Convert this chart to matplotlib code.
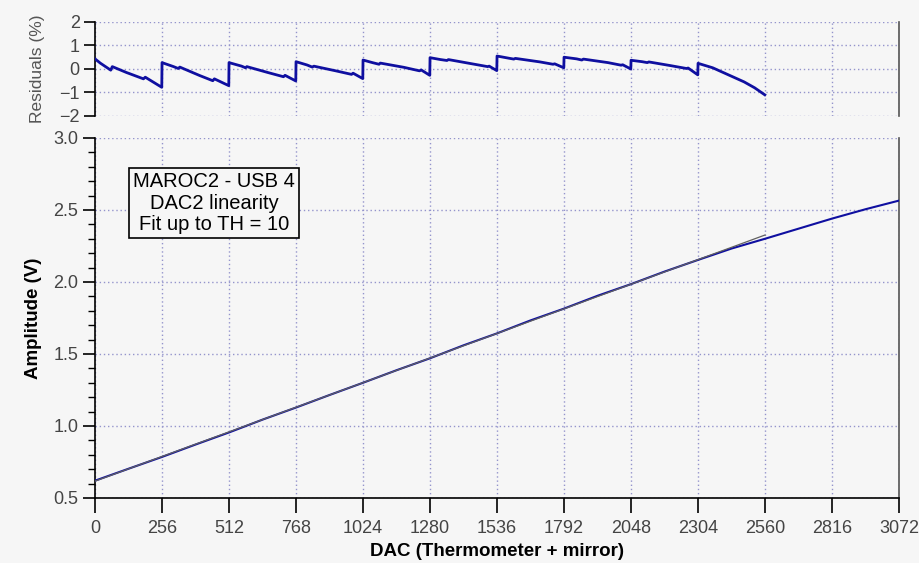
import numpy as np
import matplotlib.pyplot as plt
from matplotlib.ticker import MultipleLocator

plt.rcParams['font.family'] = ['Liberation Sans', 'DejaVu Sans']

# DAC scan: amplitude
dac = [0, 128, 256, 384, 512, 640, 768, 896, 1024, 1152, 1280, 1408, 1536,
       1664, 1792, 1920, 2048, 2176, 2304, 2432, 2560, 2688, 2816, 2944, 3072]
amplitude = [0.620, 0.703, 0.785, 0.871, 0.955, 1.044, 1.128, 1.215, 1.300,
             1.387, 1.470, 1.560, 1.643, 1.733, 1.815, 1.904, 1.985, 2.072,
             2.153, 2.232, 2.300, 2.370, 2.440, 2.505, 2.565]

# linear fit (up to TH = 10)
fit_x = [0, 2560]
fit_y = [0.617, 2.326]

# residuals (%) - sawtooth, one tooth per 256 DAC
res_x = [0, 20, 60, 66, 120, 185, 192, 255,
         256, 300, 318, 324, 400, 450, 456, 511,
         512, 560, 575, 580, 660, 720, 726, 767,
         768, 810, 830, 836, 920, 980, 986, 1023,
         1024, 1060, 1085, 1090, 1180, 1240, 1246, 1279,
         1280, 1320, 1345, 1350, 1440, 1500, 1506, 1535,
         1536, 1580, 1600, 1606, 1700, 1750, 1756, 1791,
         1792, 1840, 1860, 1866, 1960, 2010, 2016, 2047,
         2048, 2090, 2110, 2116, 2200, 2260, 2266, 2303,
         2304, 2360, 2420, 2480, 2520, 2559]
res_y = [0.43, 0.25, -0.05, 0.10, -0.15, -0.42, -0.35, -0.78,
         0.27, 0.10, 0.02, 0.08, -0.28, -0.50, -0.42, -0.71,
         0.27, 0.12, 0.05, 0.10, -0.15, -0.33, -0.27, -0.51,
         0.31, 0.17, 0.08, 0.12, -0.08, -0.23, -0.18, -0.41,
         0.38, 0.27, 0.20, 0.25, 0.07, -0.08, -0.04, -0.27,
         0.48, 0.40, 0.36, 0.40, 0.22, 0.10, 0.12, -0.07,
         0.55, 0.46, 0.42, 0.45, 0.30, 0.20, 0.22, 0.05,
         0.50, 0.43, 0.38, 0.42, 0.27, 0.16, 0.18, 0.00,
         0.37, 0.31, 0.27, 0.30, 0.14, 0.02, 0.04, -0.25,
         0.24, 0.05, -0.25, -0.55, -0.80, -1.10]

xticks = np.arange(0, 3073, 256)
bg = '#f6f6f6'
grid_kw = dict(color='#9494cc', linestyle=(0, (1, 2)), linewidth=1.0)
line_blue = '#0f0fa0'

fig = plt.figure(figsize=(9.19, 5.63), dpi=100, facecolor=bg)
ax_r = fig.add_axes([0.1034, 0.794, 0.8749, 0.167], facecolor=bg)
ax_a = fig.add_axes([0.1034, 0.1155, 0.8749, 0.6395], facecolor=bg)

# residuals panel
ax_r.plot(res_x, res_y, color=line_blue, lw=2.0, zorder=3)
ax_r.set_xlim(0, 3072)
ax_r.set_ylim(-2, 2)
ax_r.set_yticks([-2, -1, 0, 1, 2])
ax_r.set_xticks(xticks)
ax_r.tick_params(axis='x', length=0, labelbottom=False)
ax_r.tick_params(axis='y', length=8, width=1.2, labelsize=13, labelcolor='#444444', pad=3)
ax_r.grid(True, **grid_kw)
ax_r.spines['top'].set_visible(False)
ax_r.spines['bottom'].set_visible(False)
ax_r.spines['left'].set_linewidth(1.2)
ax_r.spines['right'].set_color('#555555')
ax_r.spines['right'].set_linewidth(1.2)
ax_r.set_ylabel('Residuals (%)', fontsize=12.5, color='#555555', labelpad=10)

# amplitude panel
ax_a.plot(dac, amplitude, color=line_blue, lw=1.5, zorder=3)
ax_a.plot(fit_x, fit_y, color='#606060', lw=0.9, zorder=4)
ax_a.set_xlim(0, 3072)
ax_a.set_ylim(0.5, 3.0)
ax_a.set_xticks(xticks)
ax_a.set_yticks([0.5, 1.0, 1.5, 2.0, 2.5, 3.0])
ax_a.yaxis.set_minor_locator(MultipleLocator(0.1))
ax_a.tick_params(axis='x', length=11, width=1.2, labelsize=13, labelcolor='#444444', pad=5)
ax_a.tick_params(axis='y', which='major', length=9, width=1.2, labelsize=13, labelcolor='#444444', pad=3)
ax_a.tick_params(axis='y', which='minor', length=5, width=1.0)
ax_a.grid(True, which='major', **grid_kw)
ax_a.spines['top'].set_visible(False)
for s in ['left', 'bottom']:
    ax_a.spines[s].set_linewidth(1.2)
ax_a.spines['right'].set_color('#555555')
ax_a.spines['right'].set_linewidth(1.2)
ax_a.set_ylabel('Amplitude (V)', fontsize=13.5, fontweight='bold', labelpad=8)
ax_a.set_xlabel('DAC (Thermometer + mirror)', fontsize=13.5, fontweight='bold', labelpad=4)

ax_a.text(0.148, 0.819, 'MAROC2 - USB 4\nDAC2 linearity\nFit up to TH = 10',
          transform=ax_a.transAxes, ha='center', va='center', fontsize=14.5,
          linespacing=1.15, zorder=5,
          bbox=dict(boxstyle='square,pad=0.2', facecolor=bg, edgecolor='black', linewidth=1.2))

fig.savefig('out.png', dpi=100, facecolor=bg)
